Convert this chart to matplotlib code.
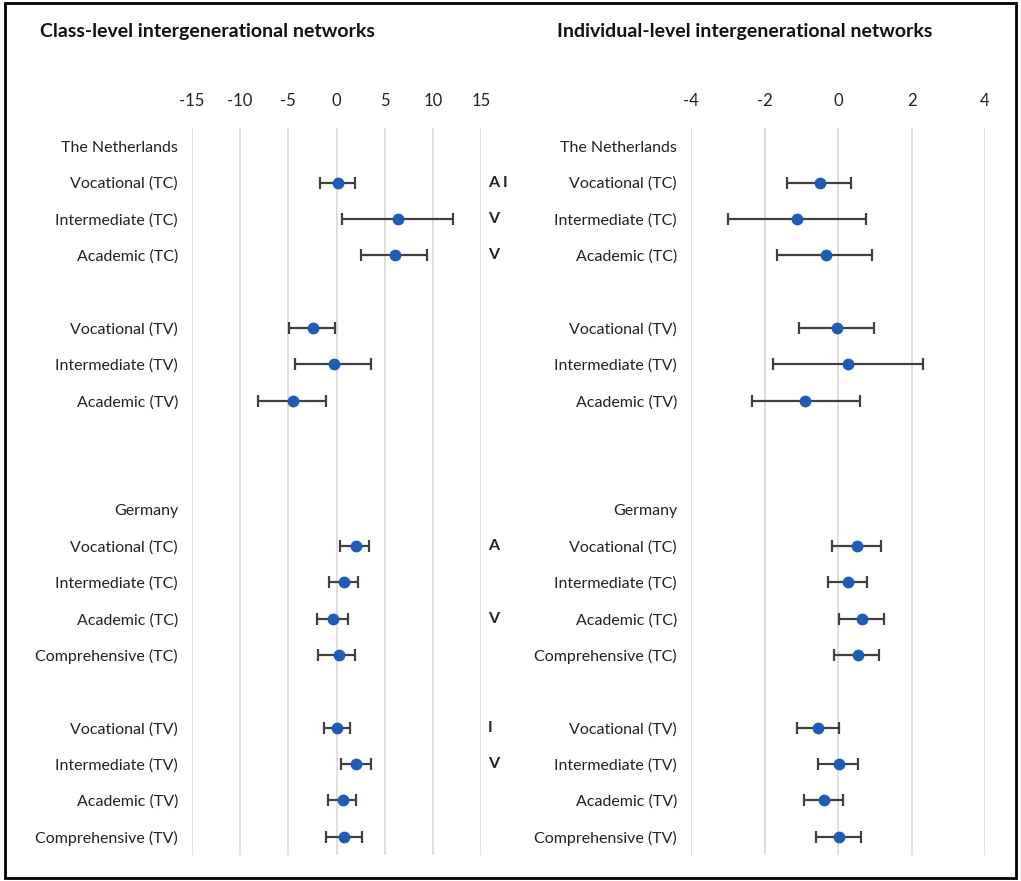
import matplotlib.pyplot as plt
import numpy as np

plt.rcParams['font.family'] = ['Lato', 'DejaVu Sans']

nan = np.nan

rows = ['The Netherlands', 'Vocational (TC)', 'Intermediate (TC)', 'Academic (TC)', '',
        'Vocational (TV)', 'Intermediate (TV)', 'Academic (TV)', '', '',
        'Germany', 'Vocational (TC)', 'Intermediate (TC)', 'Academic (TC)', 'Comprehensive (TC)', '',
        'Vocational (TV)', 'Intermediate (TV)', 'Academic (TV)', 'Comprehensive (TV)']

# class-level
class_est = [nan, 0.17, 6.4, 6.05, nan, -2.49, -0.31, -4.56, nan, nan,
             nan, 2.0, 0.76, -0.41, 0.21, nan, 0.07, 2.0, 0.66, 0.76]
class_lo = [nan, -1.73, 0.62, 2.52, nan, -4.98, -4.32, -8.2, nan, nan,
            nan, 0.35, -0.8, -2.0, -1.9, nan, -1.28, 0.48, -0.9, -1.14]
class_hi = [nan, 1.94, 12.07, 9.37, nan, -0.14, 3.56, -1.1, nan, nan,
            nan, 3.42, 2.21, 1.18, 1.94, nan, 1.38, 3.6, 2.07, 2.6]
class_sig = ['', 'A I', 'V', 'V', '', '', '', '', '', '',
             '', 'A', '', 'V', '', '', 'I', 'V', '', '']

# individual-level
ind_est = [nan, -0.5, -1.11, -0.34, nan, -0.02, 0.27, -0.89, nan, nan,
           nan, 0.52, 0.28, 0.65, 0.54, nan, -0.54, 0.03, -0.37, 0.02]
ind_lo = [nan, -1.38, -3.0, -1.67, nan, -1.05, -1.76, -2.33, nan, nan,
          nan, -0.15, -0.28, 0.03, -0.1, nan, -1.11, -0.54, -0.92, -0.61]
ind_hi = [nan, 0.35, 0.76, 0.93, nan, 0.99, 2.3, 0.59, nan, nan,
          nan, 1.16, 0.78, 1.26, 1.12, nan, 0.04, 0.55, 0.14, 0.62]

class_ticks = [-15, -10, -5, 0, 5, 10, 15]
ind_ticks = [-4, -2, 0, 2, 4]

fig = plt.figure(figsize=(10.21, 8.81), dpi=100)
W, H = 1021, 881

ax1 = fig.add_axes([192 / W, 26 / H, 289 / W, 727 / H])
ax2 = fig.add_axes([691 / W, 26 / H, 294 / W, 727 / H])

y = np.arange(len(rows))

def panel(ax, est, lo, hi, ticks):
    est = np.array(est)
    lo = np.array(lo)
    hi = np.array(hi)
    ok = ~np.isnan(est)
    ax.errorbar(est[ok], y[ok], xerr=[est[ok] - lo[ok], hi[ok] - est[ok]],
                fmt='o', color='#1f5cb8', ms=7.5, ecolor='#404040', elinewidth=1.6,
                capsize=4, capthick=1.6, zorder=3)
    ax.set_xlim(ticks[0], ticks[-1])
    ax.set_ylim(len(rows) - 0.5, -0.5)
    ax.set_xticks(ticks)
    ax.set_xticklabels([str(t) for t in ticks], fontsize=12, color='#222222')
    ax.xaxis.tick_top()
    ax.tick_params(axis='x', length=0, pad=14)
    ax.set_yticks(y)
    ax.set_yticklabels(rows, fontsize=11.5, color='#222222')
    ax.tick_params(axis='y', length=0, pad=10)
    ax.grid(axis='x', color='#d9d9d9', lw=1.2)
    ax.set_axisbelow(True)
    for s in ax.spines.values():
        s.set_visible(False)

panel(ax1, class_est, class_lo, class_hi, class_ticks)
panel(ax2, ind_est, ind_lo, ind_hi, ind_ticks)

for i, s in enumerate(class_sig):
    if s:
        ax1.text(15.7, i, s, ha='left', va='center', fontsize=11.5, fontweight='bold',
                 color='#222222', clip_on=False)

fig.text(40 / W, 1 - 32 / H, 'Class-level intergenerational networks', fontsize=14,
         fontweight='bold', va='center', ha='left', color='#111111')
fig.text(557 / W, 1 - 32 / H, 'Individual-level intergenerational networks', fontsize=14,
         fontweight='bold', va='center', ha='left', color='#111111')

border = plt.Rectangle((5 / W, 3 / H), 1011 / W, 875 / H, transform=fig.transFigure,
                       fill=False, edgecolor='black', lw=2)
fig.add_artist(border)

fig.savefig('out.png', dpi=100)
